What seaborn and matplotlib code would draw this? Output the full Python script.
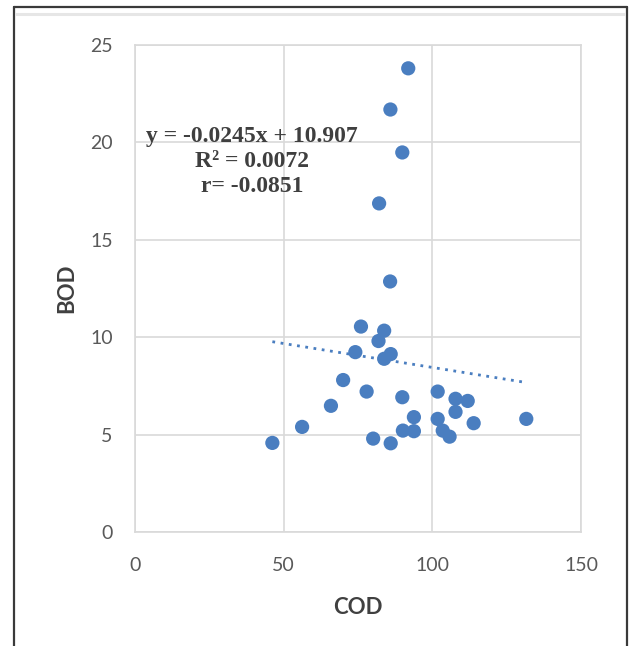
import numpy as np
import pandas as pd
import matplotlib
matplotlib.use("Agg")
import matplotlib.pyplot as plt
from matplotlib.lines import Line2D
import seaborn as sns

# COD / BOD sample measurements
cod = [91.9, 85.9, 89.9, 82.1, 85.8, 76.0, 83.8, 81.9, 74.1, 83.8, 86.0,
       70.0, 77.9, 65.9, 89.9, 101.8, 107.8, 111.9, 107.8, 113.9, 131.6,
       93.8, 101.8, 56.2, 90.1, 93.8, 103.5, 105.8, 80.1, 86.0, 46.2]
bod = [23.78, 21.67, 19.47, 16.86, 12.86, 10.55, 10.34, 9.81, 9.24, 8.90, 9.14,
       7.81, 7.22, 6.49, 6.93, 7.22, 6.85, 6.74, 6.18, 5.60, 5.82,
       5.91, 5.82, 5.41, 5.22, 5.19, 5.22, 4.91, 4.81, 4.57, 4.59]

# linear fit reported for the data
slope = -0.0245
intercept = 10.907
r_squared = 0.0072
r_value = -0.0851

x_ticks = [0, 50, 100, 150]
y_ticks = [0, 5, 10, 15, 20, 25]

df = pd.DataFrame({"COD": cod, "BOD": bod})

sns.set_theme(style="whitegrid")
plt.rcParams["font.family"] = ["Lato", "DejaVu Sans"]

blue = "#4A7EC0"
grid_c = "#D9D9D9"
tick_c = "#595959"
label_c = "#404040"

fig = plt.figure(figsize=(6.32, 6.46), dpi=100)
fig.patch.set_facecolor("white")
ax = fig.add_axes([0.2136, 0.1757, 0.7057, 0.7554])
ax.set_facecolor("white")

# dotted linear trendline across the observed COD range
fit_x = np.array([df["COD"].min(), df["COD"].max()])
fit_df = pd.DataFrame({"COD": fit_x, "BOD": slope * fit_x + intercept})
sns.lineplot(data=fit_df, x="COD", y="BOD", ax=ax, color=blue,
             linewidth=2.0, linestyle=(0, (1, 2.0)), zorder=2)

sns.scatterplot(data=df, x="COD", y="BOD", ax=ax, color=blue, s=105,
                edgecolor="none", linewidth=0, zorder=3)

ax.set_xlim(0, 150)
ax.set_ylim(0, 25)
ax.set_xticks(x_ticks)
ax.set_yticks(y_ticks)
ax.tick_params(axis="both", length=0, labelsize=14, labelcolor=tick_c)
ax.tick_params(axis="y", pad=16)
ax.tick_params(axis="x", pad=18)
ax.grid(True, color=grid_c, linewidth=1.2)
for sp in ax.spines.values():
    sp.set_visible(True)
    sp.set_color(grid_c)
    sp.set_linewidth(1.2)

ax.set_xlabel("COD", fontsize=16, fontweight="bold", color=label_c, labelpad=16)
ax.set_ylabel("BOD", fontsize=16, fontweight="bold", color=label_c, labelpad=9)

eq_text = f"y = {slope}x + {intercept}\nR² = {r_squared}\nr= {r_value}"
ax.text(39.3, 19.0, eq_text, ha="center", va="center", fontsize=17,
        fontweight="bold", color="#3F3F3F", linespacing=1.27,
        family=["Liberation Serif", "DejaVu Serif"], zorder=4)

# outer frame
frame_c = "#3A3A3A"
fig.add_artist(Line2D([0.0222, 0.0222], [0.9884, 0.0], transform=fig.transFigure,
                      color=frame_c, linewidth=1.6))
fig.add_artist(Line2D([0.0222, 0.9921], [0.9884, 0.9884], transform=fig.transFigure,
                      color=frame_c, linewidth=1.6))
fig.add_artist(Line2D([0.9921, 0.9921], [0.9884, 0.0], transform=fig.transFigure,
                      color=frame_c, linewidth=1.6))
fig.add_artist(Line2D([0.026, 0.988], [0.9776, 0.9776], transform=fig.transFigure,
                      color="#E6E6E6", linewidth=2.2))

fig.savefig("out.png", dpi=100, facecolor="white")
